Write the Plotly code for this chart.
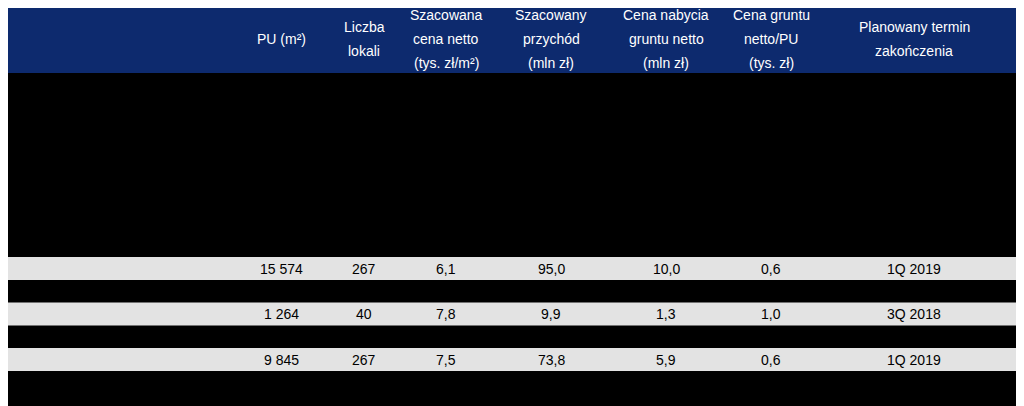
import plotly.graph_objects as go

headers = [["PU (m²)"], ["Liczba", "lokali"], ["Szacowana", "cena netto", "(tys. zł/m²)"], ["Szacowany", "przychód", "(mln zł)"],
           ["Cena nabycia", "gruntu netto", "(mln zł)"], ["Cena gruntu", "netto/PU", "(tys. zł)"], ["Planowany termin", "zakończenia"]]
names = ["Ogrody Jordanowskie II", "Śrutowa", "Księcia Witolda"]
pu = ["15 574", "1 264", "9 845"]
lokale = ["267", "40", "267"]
cena = ["6,1", "7,8", "7,5"]
przychod = ["95,0", "9,9", "73,8"]
grunt = ["10,0", "1,3", "5,9"]
grunt_pu = ["0,6", "1,0", "0,6"]
termin = ["1Q 2019", "3Q 2018", "1Q 2019"]

col_x = [281, 364, 446, 551, 666, 771, 914]
row_y = [268.5, 314, 359.5]
row_h = 23
line_h = 24
font = "Liberation Sans Narrow, Arial Narrow, Liberation Sans, sans-serif"

fig = go.Figure()
shapes = [dict(type="rect", x0=0, x1=1021, y0=5, y1=73, fillcolor="#0d2a6e", line_width=0, layer="below")]
ann = []
for h, x in zip(headers, col_x):
    y0 = 39 - (len(h) - 1) * line_h / 2
    for k, t in enumerate(h):
        ann.append(dict(x=x, y=y0 + k * line_h, text=t, showarrow=False, font=dict(color="white", size=14, family=font)))
cols = [pu, lokale, cena, przychod, grunt, grunt_pu, termin]
for i, y in enumerate(row_y):
    shapes.append(dict(type="rect", x0=0, x1=1021, y0=y - row_h / 2, y1=y + row_h / 2, fillcolor="#e3e3e3", line_width=0, layer="below"))
    ann.append(dict(x=3, y=y, text=names[i], xanchor="left", showarrow=False, font=dict(color="black", size=14, family=font)))
    for c, x in zip(cols, col_x):
        ann.append(dict(x=x, y=y, text=c[i], showarrow=False, font=dict(color="black", size=14, family=font)))

fig.update_layout(width=1024, height=406, margin=dict(l=0, r=0, t=0, b=0),
                  paper_bgcolor="black", plot_bgcolor="black", shapes=shapes, annotations=ann,
                  xaxis=dict(range=[8, 1032], visible=False, fixedrange=True),
                  yaxis=dict(range=[414, 8], visible=False, fixedrange=True), showlegend=False)
fig.write_html("out.html")
